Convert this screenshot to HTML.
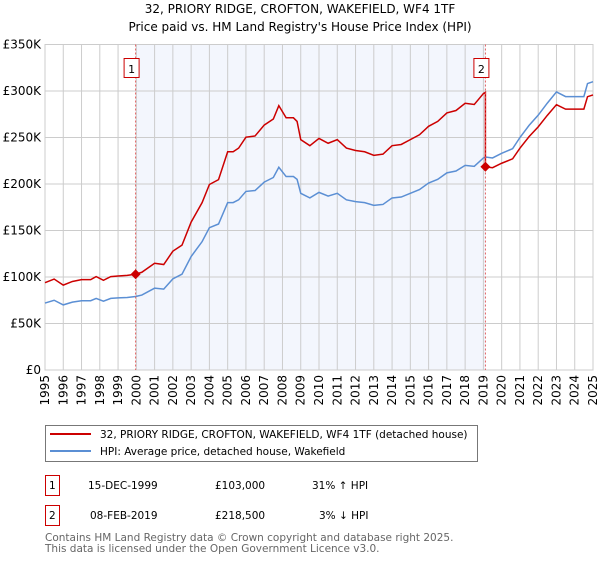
<!DOCTYPE html>
<html><head><meta charset="utf-8"><style>
body{margin:0;background:#fff;}
svg text{font-family:"DejaVu Sans","Liberation Sans",sans-serif;}
</style></head><body>
<svg id="chart" width="600" height="560" xmlns="http://www.w3.org/2000/svg">
<text x="300" y="13" font-size="12" text-anchor="middle" fill="#000">32, PRIORY RIDGE, CROFTON, WAKEFIELD, WF4 1TF</text>
<text x="300" y="31" font-size="12" text-anchor="middle" fill="#000">Price paid vs. HM Land Registry's House Price Index (HPI)</text>
<g id="plot"></g>
<g>
<rect x="45.5" y="425.5" width="432" height="36" fill="#fff" stroke="#777"/>
<line x1="50" y1="434" x2="91" y2="434" stroke="#cc0000" stroke-width="2"/>
<text x="100" y="438" font-size="10.5">32, PRIORY RIDGE, CROFTON, WAKEFIELD, WF4 1TF (detached house)</text>
<line x1="50" y1="451" x2="91" y2="451" stroke="#5b8fd4" stroke-width="2"/>
<text x="100" y="455" font-size="10.5">HPI: Average price, detached house, Wakefield</text>
</g>
<g font-size="10.5">
<rect x="45.5" y="475.5" width="14" height="20" fill="#fff" stroke="#cc0000"/>
<text x="49" y="489">1</text>
<text x="88" y="489">15-DEC-1999</text>
<text x="215" y="489">£103,000</text>
<text x="312" y="489">31% ↑ HPI</text>
<rect x="45.5" y="505.5" width="14" height="20" fill="#fff" stroke="#cc0000"/>
<text x="49" y="519">2</text>
<text x="90" y="519">08-FEB-2019</text>
<text x="215" y="519">£218,500</text>
<text x="319" y="519">3% ↓ HPI</text>
</g>
<text x="45" y="541" font-size="10.5" fill="#666">Contains HM Land Registry data © Crown copyright and database right 2025.</text>
<text x="45" y="552" font-size="10.5" fill="#666">This data is licensed under the Open Government Licence v3.0.</text>
</svg>
<script>
const hpiYears=[1995,1995.5,1996,1996.5,1997,1997.5,1997.8,1998.2,1998.6,1999,1999.5,1999.96,2000.3,2001,2001.5,2002,2002.5,2003,2003.3,2003.6,2004,2004.5,2005,2005.3,2005.6,2006,2006.5,2007,2007.5,2007.8,2008.2,2008.6,2008.8,2009,2009.5,2010,2010.5,2011,2011.5,2012,2012.5,2013,2013.5,2014,2014.5,2015,2015.5,2016,2016.5,2017,2017.5,2018,2018.5,2019,2019.11,2019.5,2020,2020.6,2021,2021.5,2022,2022.5,2023,2023.5,2024,2024.5,2024.7,2025];
const hpiValues=[72,75,70,73,74.5,74.5,77,74,77,77.5,78,79,80.6,88,87,98,103,122,130,138,153,157,180,180,183,192,193,202,207,218,208,208,205,190,185,191,187,190,183,181,180,177,178,185,186,190,194,201,205,212,214,220,219,228,229,228,233,238,250,263,274,287,299,294,294,294,308,310];
const saleYears=[1999.96,2019.11];
const salePrices=[103,218.5];
const yTicks=[0,50,100,150,200,250,300,350];
const yTickLabels=["£0","£50K","£100K","£150K","£200K","£250K","£300K","£350K"];
const xTicks=[1995,1996,1997,1998,1999,2000,2001,2002,2003,2004,2005,2006,2007,2008,2009,2010,2011,2012,2013,2014,2015,2016,2017,2018,2019,2020,2021,2022,2023,2024,2025];

const L=45,R=593,T=44.5,B=370;
const X=y=>L+(y-1995)*(R-L)/30;
const Y=v=>B-v*(B-T)/350;
const NS="http://www.w3.org/2000/svg";
const g=document.getElementById('plot');
function mk(tag,attrs){const e=document.createElementNS(NS,tag);for(const k in attrs)e.setAttribute(k,attrs[k]);g.appendChild(e);return e;}
function hpiAt(t){for(let i=0;i<hpiYears.length-1;i++){if(t<=hpiYears[i+1]){const f=(t-hpiYears[i])/(hpiYears[i+1]-hpiYears[i]);return hpiValues[i]+f*(hpiValues[i+1]-hpiValues[i]);}}return hpiValues[hpiValues.length-1];}

let sh=mk('rect',{x:X(saleYears[0]),y:T,width:X(saleYears[1])-X(saleYears[0]),height:B-T,fill:'#f3f6fd'});


yTicks.forEach((v,i)=>{
  let l=mk('line',{x1:L,x2:R,y1:Y(v),y2:Y(v),stroke:'#ccc','stroke-width':1});
  
  
  let t=mk('text',{x:L-4,y:Y(v)+4,'font-size':12,'text-anchor':'end'});t.textContent=yTickLabels[i];
  
  
});
xTicks.forEach(yr=>{
  let l=mk('line',{x1:X(yr),x2:X(yr),y1:T,y2:B,stroke:'#ccc','stroke-width':1});
  
  
  let t=mk('text',{x:0,y:0,'font-size':12,'text-anchor':'end',transform:`translate(${X(yr)+4},${B+5}) rotate(-90)`});t.textContent=yr;
  
  
});
let fr=mk('rect',{x:L,y:T,width:R-L,height:B-T,fill:'none',stroke:'#ccc'});


let hp=mk('polyline',{points:hpiYears.map((y,i)=>X(y)+','+Y(hpiValues[i])).join(' '),fill:'none',stroke:'#5b8fd4','stroke-width':1.5});


const r1=salePrices[0]/hpiAt(saleYears[0]);
const r2=salePrices[1]/hpiAt(saleYears[1]);
let pts=[];
hpiYears.forEach((y,i)=>{if(y<saleYears[1])pts.push(X(y)+','+Y(hpiValues[i]*r1));});
pts.push(X(saleYears[1])+','+Y(hpiAt(saleYears[1])*r1));
pts.push(X(saleYears[1])+','+Y(salePrices[1]));
hpiYears.forEach((y,i)=>{if(y>saleYears[1])pts.push(X(y)+','+Y(hpiValues[i]*r2));});
let pl=mk('polyline',{points:pts.join(' '),fill:'none',stroke:'#cc0000','stroke-width':1.5});


saleYears.forEach((s,i)=>{
  let vl=mk('line',{x1:X(s),x2:X(s),y1:T,y2:B,stroke:'#e06060','stroke-width':1,'stroke-dasharray':'2,2'});
  
  
  let px=X(s),py=Y(salePrices[i]);
  let d=mk('polygon',{points:`${px},${py-5} ${px+5},${py} ${px},${py+5} ${px-5},${py}`,fill:'#cc0000'});
  
  
  let b=mk('rect',{x:px-11.5,y:58.5,width:15,height:19,fill:'#fff',stroke:'#cc0000'});
  
  
  let t=mk('text',{x:px-4,y:73,'font-size':11,'text-anchor':'middle'});t.textContent=String(i+1);
  
  
});
</script>
</body></html>
